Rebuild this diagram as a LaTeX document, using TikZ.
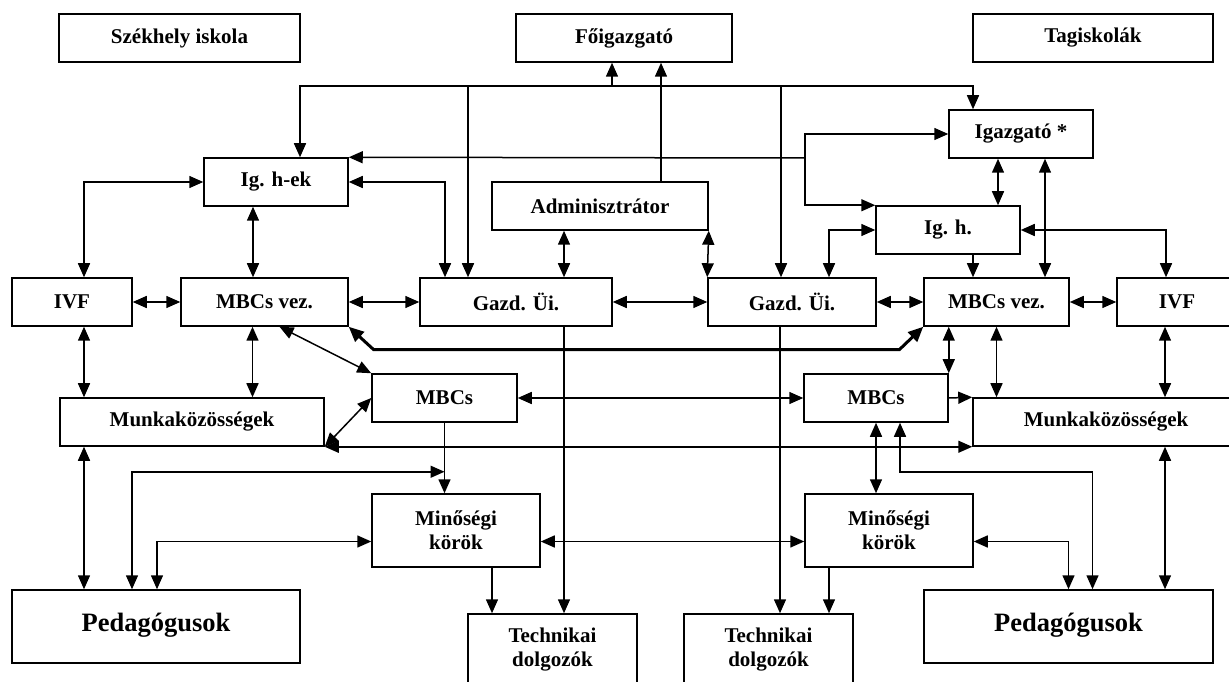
\documentclass[tikz,border=0pt]{standalone}
\usepackage{fontspec}
\setmainfont{Liberation Serif}
\usetikzlibrary{arrows.meta}

\begin{document}
\begin{tikzpicture}[x=1pt, y=1pt]
    % Define styles
    \tikzstyle{unit} = [rectangle, draw, line width=1.5pt, inner sep=0pt, align=center, minimum height=48pt, font=\fontsize{21}{24}\selectfont\bfseries]
    \tikzstyle{bigunit} = [unit, minimum height=73pt, font=\fontsize{26.5}{30}\selectfont\bfseries]
    \tikzstyle{arrow} = [line width=1.5pt, -{Triangle[length=14pt, width=12pt]}]
    \tikzstyle{darrow} = [line width=1.5pt, {Triangle[length=14pt, width=12pt]}-{Triangle[length=14pt, width=12pt]}]
    \tikzstyle{thickarrow} = [line width=3pt, {Triangle[length=15pt, width=13pt]}-{Triangle[length=15pt, width=13pt]}]

    \useasboundingbox (0,0) rectangle (1229,681);

    % Nodes
    \node [unit, minimum width=241pt] (seat) at (179.5,643) {Székhely iskola};
    \node [unit, minimum width=216pt] (chief) at (624,643) {Főigazgató};
    \node [unit, minimum width=240pt] (members) at (1093,643) {Tagiskolák};
    \node [unit, minimum width=144pt] (head) at (1021,547) {Igazgató *};
    \node [unit, minimum width=144pt] (depsL) at (276,499) {Ig. h-ek};
    \node [unit, minimum width=216pt] (admin) at (600,475) {Adminisztrátor};
    \node [unit, minimum width=144pt] (depR) at (948,451) {Ig. h.};
    \node [unit, minimum width=120pt] (ivfL) at (72,379) {IVF};
    \node [unit, minimum width=167pt] (leadL) at (264.5,379) {MBCs vez.};
    \node [unit, minimum width=192pt] (econL) at (516,379) {Gazd. Üi.};
    \node [unit, minimum width=168pt] (econR) at (792,379) {Gazd. Üi.};
    \node [unit, minimum width=145pt] (leadR) at (996.5,379) {MBCs vez.};
    \node [unit, minimum width=120pt] (ivfR) at (1177,379) {IVF};
    \node [unit, minimum width=145pt] (mbcL) at (444.5,283) {MBCs};
    \node [unit, minimum width=144pt] (mbcR) at (876,283) {MBCs};
    \node [unit, minimum width=264pt] (teamL) at (192,259) {Munkaközösségek};
    \node [unit, minimum width=266pt] (teamR) at (1106,259) {Munkaközösségek};
    \node [unit, minimum width=168pt, minimum height=73pt] (circL) at (456,150.5) {Minőségi\\körök};
    \node [unit, minimum width=168pt, minimum height=73pt] (circR) at (889,150.5) {Minőségi\\körök};
    \node [bigunit, minimum width=288pt] (teachL) at (156,54.5) {\raisebox{9pt}{Pedagógusok}};
    \node [bigunit, minimum width=289pt] (teachR) at (1068.5,54.5) {\raisebox{9pt}{Pedagógusok}};
    \node [unit, minimum width=169pt, minimum height=72pt] (techL) at (552.5,31) {Technikai\\dolgozók};
    \node [unit, minimum width=169pt, minimum height=72pt] (techR) at (768.5,31) {Technikai\\dolgozók};

    % Arrows
    \coordinate (bus) at (612,595);
    \coordinate (fork) at (805,523);
    \draw [arrow] (bus) -- ([xshift=-12pt]chief.south);
    \draw [arrow] (bus) -| ([xshift=24pt]depsL.north);
    \draw [arrow] (bus) -| ([xshift=-48pt]econL.north);
    \draw [arrow] (bus) -| ([xshift=-11pt]econR.north);
    \draw [arrow] (bus) -| ([xshift=-48pt]head.north);
    \draw [arrow] ([xshift=61pt]admin.north) -- ([xshift=37pt]chief.south);
    \draw [arrow] (fork) -- (depsL.north east);
    \draw [arrow] (fork) |- (head.west);
    \draw [arrow] (fork) |- (depR.north west);

    \draw [darrow] ([xshift=12pt]ivfL.north) |- (depsL.west);
    \draw [darrow] (depsL.east) -| ([xshift=-71pt]econL.north);
    \draw [darrow] ([xshift=-23pt]depsL.south) -- ([xshift=-23pt]depsL.south |- leadL.north);
    \draw [darrow] ([xshift=-36pt]admin.south) -- ([xshift=-36pt]admin.south |- econL.north);
    \draw [darrow] (admin.south east) -- (econR.north west);
    \draw [darrow] (depR.west) -| ([xshift=37pt]econR.north);
    \draw [arrow] ([xshift=25pt]depR.south) -- ([xshift=25pt]depR.south |- leadR.north);
    \draw [darrow] ([xshift=-23pt]head.south) -- ([xshift=-23pt]head.south |- depR.north);
    \draw [darrow] ([xshift=24pt]head.south) -- ([xshift=24pt]head.south |- leadR.north);
    \draw [darrow] (depR.east) -| ([xshift=-11pt]ivfR.north);

    \draw [darrow] (ivfL) -- (leadL);
    \draw [darrow] (leadL) -- (econL);
    \draw [darrow] (econL) -- (econR);
    \draw [darrow] (econR) -- (leadR);
    \draw [darrow] (leadR) -- (ivfR);
    \draw [thickarrow] (leadL.south east) -- ++(25pt,-23pt) -- ([xshift=-24pt,yshift=-23pt]leadR.south west) -- (leadR.south west);

    \draw [darrow] (mbcL.north west) -- ([xshift=15pt]leadL.south);
    \draw [darrow] (mbcL.west) -- (teamL.south east);
    \draw [darrow] (mbcL) -- (mbcR);
    \draw [arrow] (mbcL.south) -- (mbcL.south |- circL.north);
    \draw [darrow] (teamL.south east) -- (teamR.south west);
    \draw [arrow] (mbcR.east) -- (teamR.north west);
    \draw [darrow] (mbcR.north east) -- (mbcR.north east |- leadR.south);
    \draw [darrow] (leadR.south) -- (leadR.south |- teamR.north);
    \draw [darrow] ([xshift=-12pt]ivfR.south) -- ([xshift=-12pt]ivfR.south |- teamR.north);
    \draw [darrow] ([xshift=12pt]ivfL.south) -- ([xshift=12pt]ivfL.south |- teamL.north);
    \draw [darrow] ([xshift=-12pt]leadL.south) -- ([xshift=-12pt]leadL.south |- teamL.north);
    \draw [darrow] ([xshift=-108pt]teamL.south) -- ([xshift=-72pt]teachL.north);
    \draw [darrow] ([xshift=59pt]teamR.south) -- ([xshift=59pt]teamR.south |- teachR.north);

    \draw [darrow] ([xshift=-24pt]teachL.north) |- ([yshift=-49pt]mbcL.south);
    \draw [darrow] ([xshift=1pt]teachL.north) |- ([yshift=-11pt]circL.west);
    \draw [darrow] ([yshift=-11pt]circL.east) -- ([yshift=-11pt]circR.west);
    \draw [darrow] ([yshift=-11pt]circR.east) -| (teachR.north);
    \draw [darrow] ([xshift=24pt]mbcR.south) -- ++(0,-49pt) -| ([xshift=24pt]teachR.north);
    \draw [darrow] (mbcR.south) -- (mbcR.south |- circR.north);
    \draw [arrow] ([xshift=36pt]circL.south) -- ([xshift=36pt]circL.south |- techL.north);
    \draw [arrow] ([xshift=-60pt]circR.south) -- ([xshift=-60pt]circR.south |- techR.north);
    \draw [arrow] ([xshift=48pt]econL.south) -- ([xshift=48pt]econL.south |- techL.north);
    \draw [arrow] ([xshift=-12pt]econR.south) -- ([xshift=-12pt]econR.south |- techR.north);
\end{tikzpicture}
\end{document}
